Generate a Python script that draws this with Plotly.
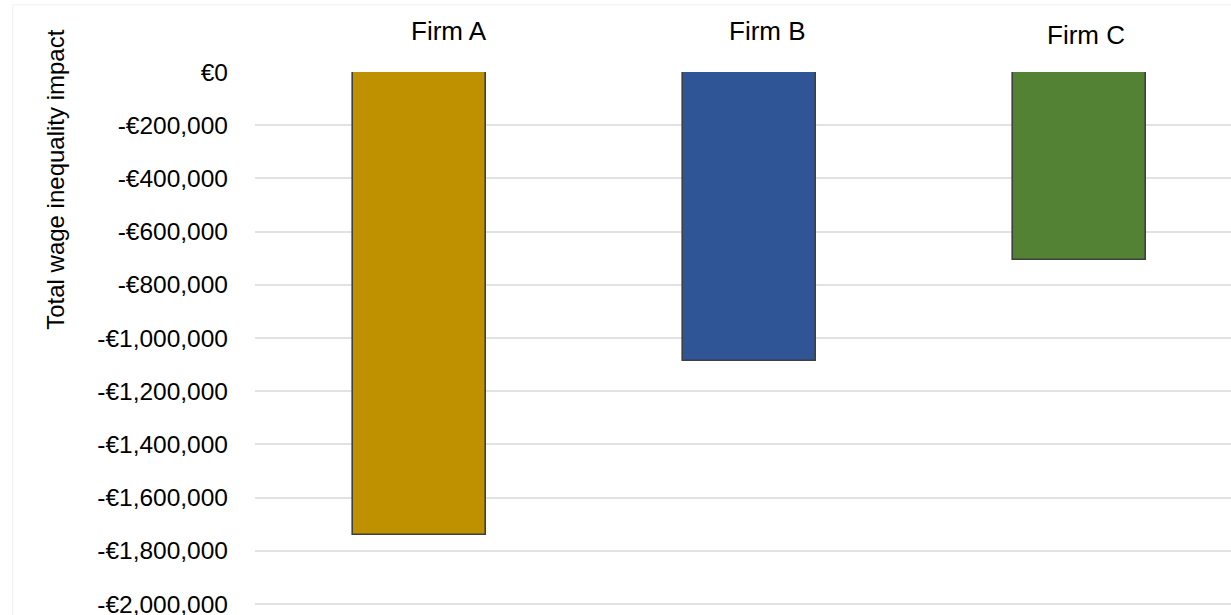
import plotly.graph_objects as go

# Wage inequality impact per firm (EUR)
firms = ["Firm A", "Firm B", "Firm C"]
impact = [-1740000, -1088000, -708000]
bar_colors = ["#BF9000", "#2F5597", "#548235"]

tick_vals = [0, -200000, -400000, -600000, -800000, -1000000,
             -1200000, -1400000, -1600000, -1800000, -2000000]
tick_text = ["€0", "-€200,000", "-€400,000", "-€600,000", "-€800,000",
             "-€1,000,000", "-€1,200,000", "-€1,400,000", "-€1,600,000",
             "-€1,800,000", "-€2,000,000"]

FONT = "Liberation Sans, Arial, sans-serif"

# horizontal / vertical nudge of each firm name above its bar (px)
label_dx = [29, 18, 6]
label_dy = [41, 41, 37]

fig = go.Figure(
    go.Bar(
        x=firms,
        y=impact,
        width=0.403,
        marker=dict(color=bar_colors, line=dict(color="#3F3F3F", width=1.6)),
        hoverinfo="x+y",
    )
)

for name, dx, dy in zip(firms, label_dx, label_dy):
    fig.add_annotation(
        x=name, y=0, xref="x", yref="y", text=name, showarrow=False,
        xanchor="center", yanchor="middle",
        xshift=dx, yshift=dy, font=dict(family=FONT, size=26, color="#000000"),
    )

fig.add_annotation(
    x=-0.2043, y=0.797, xref="paper", yref="paper",
    xanchor="center", yanchor="middle",
    text="Total wage inequality impact", textangle=-90, showarrow=False,
    font=dict(family=FONT, size=24, color="#000000"),
)

# faint chart-area border
fig.add_shape(type="line", xref="paper", yref="paper",
              x0=-0.2483, x1=1.0, y0=1.126, y1=1.126,
              line=dict(color="#F0F0F0", width=1))
fig.add_shape(type="line", xref="paper", yref="paper",
              x0=-0.2483, x1=-0.2483, y0=-0.1, y1=1.126,
              line=dict(color="#F0F0F0", width=1))

fig.update_layout(
    width=1231, height=615,
    margin=dict(l=255, r=0, t=72, b=10, autoexpand=False),
    paper_bgcolor="white", plot_bgcolor="white",
    showlegend=False,
    bargap=0,
    font=dict(family=FONT, size=24, color="#000000"),
    xaxis=dict(
        type="category", range=[-0.5, 2.459], showticklabels=False,
        showgrid=False, zeroline=False, showline=False, fixedrange=True,
        automargin=False,
    ),
    yaxis=dict(
        range=[-2004000, 0], tickvals=tick_vals, ticktext=tick_text,
        showgrid=True, gridcolor="#E2E2E2", gridwidth=2,
        zeroline=False, showline=False, ticks="",
        ticklabelstandoff=26, ticklabeloverflow="allow", automargin=False,
        tickfont=dict(family=FONT, size=24.5, color="#000000"),
    ),
)

fig.write_html("out.html")
